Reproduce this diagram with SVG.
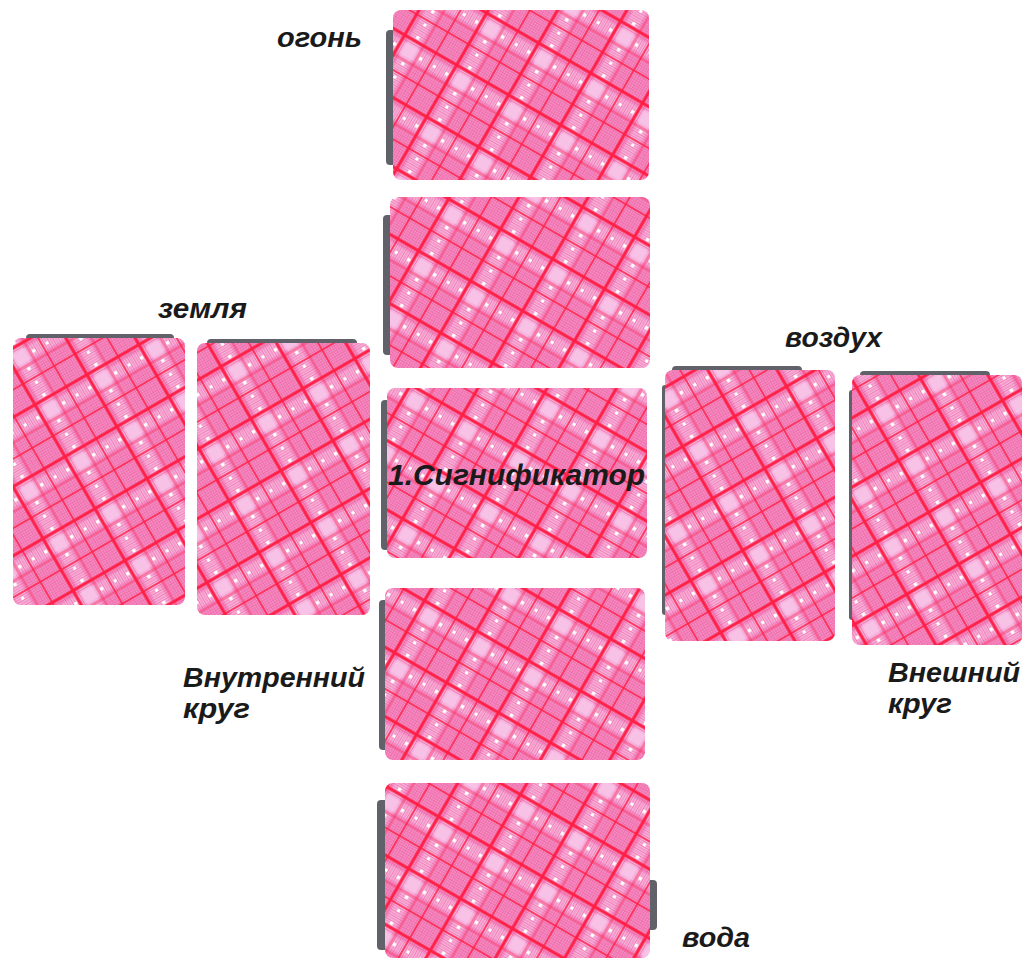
<svg xmlns="http://www.w3.org/2000/svg" width="1024" height="963" viewBox="0 0 1024 963">
  <style>
    .lbl { font-family: "Liberation Sans", Arial, sans-serif; font-weight: bold; font-style: italic; font-size: 28px; fill: #1a1a1a; }
    .edge { fill: #3a3a44; opacity: 0.8; }
  </style>
  <defs>
    <g id="tile">
      <rect width="60" height="60" fill="#f39ad2"/>
      <rect x="0" y="14" width="60" height="12" fill="#fbd2ef" opacity="0.45"/>
      <rect x="14" y="0" width="12" height="60" fill="#fbd2ef" opacity="0.45"/>
      <g stroke="#ef3a78" stroke-width="0.9" opacity="0.5">
        <path d="M0 1.5H60M0 4H60M0 6.5H60M0 9H60M0 11.5H60M0 29H60M0 31.5H60M0 34H60M0 36.5H60M0 39H60M0 41.5H60M0 44H60M0 46.5H60M0 49H60M0 51.5H60M0 54H60M0 56.5H60M0 59H60"/>
        <path d="M1.5 0V60M4 0V60M6.5 0V60M9 0V60M11.5 0V60M29 0V60M31.5 0V60M34 0V60M36.5 0V60M39 0V60M41.5 0V60M44 0V60M46.5 0V60M49 0V60M51.5 0V60M54 0V60M56.5 0V60M59 0V60"/>
      </g>
      <g stroke="#ff1e44">
        <path d="M0 8H60M8 0V60" stroke-width="3"/>
        <path d="M0 44H60M44 0V60" stroke-width="1.5"/>
        <path d="M0 30H60M30 0V60" stroke-width="0.9" opacity="0.8"/>
      </g>
      <g fill="#ffffff">
        <rect x="2" y="19" width="3.5" height="3.5"/>
        <rect x="32" y="19" width="3.5" height="3.5"/>
        <rect x="19" y="2" width="3.5" height="3.5"/>
        <rect x="19" y="32" width="3.5" height="3.5"/>
        <rect x="48" y="19" width="3" height="3"/>
        <rect x="19" y="48" width="3" height="3"/>
      </g>
    </g>
    <pattern id="plaidH" patternUnits="userSpaceOnUse" width="60" height="60" patternTransform="rotate(30)">
      <use href="#tile"/>
    </pattern>
    <pattern id="plaidV" patternUnits="userSpaceOnUse" width="60" height="60" patternTransform="rotate(-30)">
      <use href="#tile"/>
    </pattern>
  </defs>
  <rect width="1024" height="963" fill="#ffffff"/>

  <g id="card-fire">
    <rect class="edge" x="386" y="30" width="10" height="135" rx="4"/>
    <rect x="393" y="10" width="256" height="170" rx="8" fill="url(#plaidH)"/>
  </g>
  <g id="card-2">
    <rect class="edge" x="383" y="215" width="10" height="140" rx="4"/>
    <rect x="390" y="197" width="260" height="171" rx="8" fill="url(#plaidH)"/>
  </g>
  <g id="card-significator">
    <rect class="edge" x="381" y="400" width="9" height="150" rx="4"/>
    <rect x="387" y="388" width="260" height="170" rx="8" fill="url(#plaidH)"/>
  </g>
  <g id="card-4">
    <rect class="edge" x="379" y="600" width="10" height="150" rx="4"/>
    <rect x="385" y="588" width="260" height="172" rx="8" fill="url(#plaidH)"/>
  </g>
  <g id="card-water">
    <rect class="edge" x="377" y="800" width="12" height="150" rx="4"/>
    <rect class="edge" x="643" y="880" width="14" height="50" rx="4"/>
    <rect x="385" y="783" width="265" height="175" rx="8" fill="url(#plaidH)"/>
  </g>
  <g id="card-earth-1">
    <rect class="edge" x="26" y="334" width="148" height="8" rx="4"/>
    <rect x="13" y="338" width="172" height="267" rx="8" fill="url(#plaidV)"/>
  </g>
  <g id="card-earth-2">
    <rect class="edge" x="207" y="339" width="150" height="8" rx="4"/>
    <rect x="197" y="343" width="173" height="272" rx="8" fill="url(#plaidV)"/>
  </g>
  <g id="card-air-1">
    <rect class="edge" x="672" y="366" width="130" height="8" rx="4"/>
    <rect class="edge" x="662" y="385" width="6" height="230" rx="3"/>
    <rect x="665" y="370" width="170" height="271" rx="8" fill="url(#plaidV)"/>
  </g>
  <g id="card-air-2">
    <rect class="edge" x="860" y="371" width="130" height="8" rx="4"/>
    <rect class="edge" x="849" y="390" width="6" height="230" rx="3"/>
    <rect x="852" y="375" width="170" height="270" rx="8" fill="url(#plaidV)"/>
  </g>

  <g id="labels">
    <text class="lbl" x="277" y="47" textLength="85" lengthAdjust="spacingAndGlyphs">огонь</text>
    <text class="lbl" x="158" y="318" textLength="89" lengthAdjust="spacingAndGlyphs">земля</text>
    <text class="lbl" x="785" y="347" textLength="97" lengthAdjust="spacingAndGlyphs">воздух</text>
    <text class="lbl" x="388" y="485" style="font-size:30px" textLength="257" lengthAdjust="spacingAndGlyphs">1.Сигнификатор</text>
    <text class="lbl" x="183" y="687" textLength="182" lengthAdjust="spacingAndGlyphs">Внутренний</text>
    <text class="lbl" x="183" y="718" textLength="67" lengthAdjust="spacingAndGlyphs">круг</text>
    <text class="lbl" x="888" y="682" textLength="132" lengthAdjust="spacingAndGlyphs">Внешний</text>
    <text class="lbl" x="888" y="713" textLength="64" lengthAdjust="spacingAndGlyphs">круг</text>
    <text class="lbl" x="682" y="947" textLength="68" lengthAdjust="spacingAndGlyphs">вода</text>
  </g>
</svg>
